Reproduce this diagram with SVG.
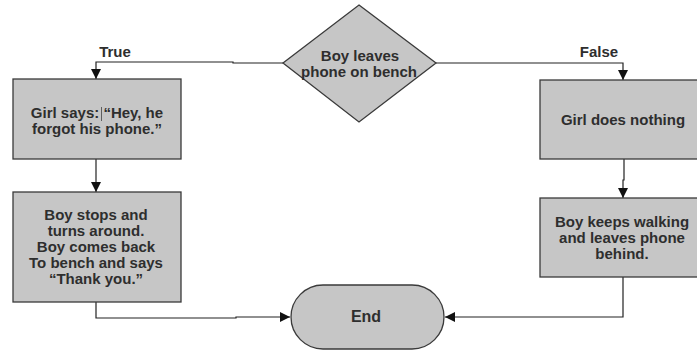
<svg xmlns="http://www.w3.org/2000/svg" width="697" height="351" viewBox="0 0 697 351">
<style>
.shape{fill:#c6c6c6;stroke:#3a3a3a;stroke-width:1.3}
.t{font-family:"Liberation Sans",Arial,sans-serif;font-weight:bold;font-size:15px;fill:#2e2e2e;text-anchor:middle}
.c{fill:none;stroke:#222;stroke-width:1.2}
</style>
<defs>
<marker id="ah" viewBox="0 0 10 10" refX="10" refY="5" markerWidth="10" markerHeight="10" markerUnits="userSpaceOnUse" orient="auto">
<path d="M0,0 L10,5 L0,10 z" fill="#111"/>
</marker>
</defs>
<rect width="697" height="351" fill="#fff"/>
<g id="connectors">
<path class="c" d="M283,63 H233 V62 H96 V79" marker-end="url(#ah)"/>
<path class="c" d="M436,63 H623 V80" marker-end="url(#ah)"/>
<path class="c" d="M96,159 V192" marker-end="url(#ah)"/>
<path class="c" d="M624,159 V180 H623 V198" marker-end="url(#ah)"/>
<path class="c" d="M96,302 V318 H236 V317 H290" marker-end="url(#ah)"/>
<path class="c" d="M623,277 V317 H445" marker-end="url(#ah)"/>
<text class="t" x="115" y="57">True</text>
<text class="t" x="599" y="57">False</text>
</g>
<g id="decision">
<polygon class="shape" points="359,5 436,63 359,122 283,63"/>
<text class="t" x="360" y="61">Boy leaves</text>
<text class="t" x="359" y="77">phone on bench</text>
</g>
<g id="girl-says">
<rect class="shape" x="13" y="79" width="168" height="80"/>
<text class="t" x="97" y="118">Girl says: “Hey, he</text>
<text class="t" x="97" y="134">forgot his phone.”</text>
<line x1="101.5" y1="107" x2="101.5" y2="121" stroke="#444" stroke-width="0.8"/>
</g>
<g id="boy-returns">
<rect class="shape" x="13" y="192" width="168" height="110"/>
<text class="t" x="96" y="220">Boy stops and</text>
<text class="t" x="96" y="236">turns around.</text>
<text class="t" x="96" y="252">Boy comes back</text>
<text class="t" x="96" y="268">To bench and says</text>
<text class="t" x="96" y="284">“Thank you.”</text>
</g>
<g id="girl-nothing">
<rect class="shape" x="540" y="80" width="158" height="79"/>
<text class="t" x="623" y="125">Girl does nothing</text>
</g>
<g id="boy-leaves">
<rect class="shape" x="540" y="198" width="158" height="79"/>
<text class="t" x="622" y="227">Boy keeps walking</text>
<text class="t" x="622" y="243">and leaves phone</text>
<text class="t" x="622" y="259">behind.</text>
</g>
<g id="end">
<path class="shape" d="M323,285 H412 A32,32 0 0 1 412,349 H323 A32,32 0 0 1 323,285 Z"/>
<text class="t" x="366" y="322" style="font-size:16px">End</text>
</g>
</svg>
